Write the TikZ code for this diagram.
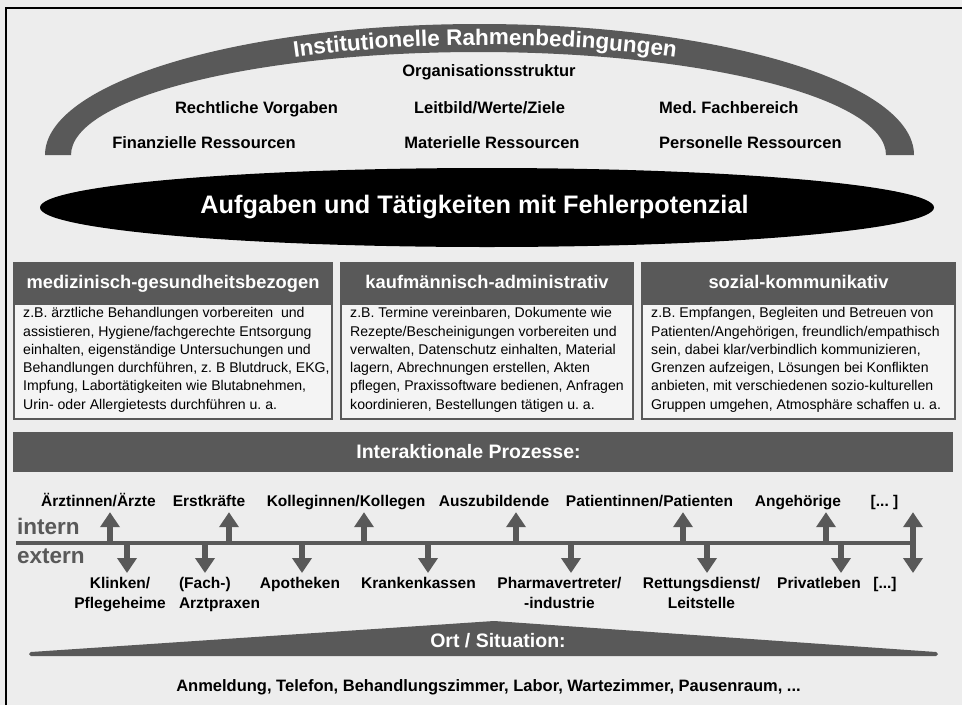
\documentclass[tikz,border=0pt]{standalone}
\usepackage{fontspec}
\setmainfont{Liberation Sans}
\usetikzlibrary{shapes.geometric,arrows.meta,decorations.text}
\definecolor{dgray}{HTML}{595959}
\definecolor{bggray}{HTML}{EDEDED}
\definecolor{boxgray}{HTML}{F4F4F4}
\frenchspacing
\begin{document}
\begin{tikzpicture}[x=1pt,y=-1pt,
    lab/.style={font=\fontsize{16.5}{20}\selectfont\bfseries, inner sep=0pt, anchor=base},
    tl/.style={font=\fontsize{15.5}{20}\selectfont\bfseries, inner sep=0pt},
    head/.style={font=\fontsize{18.3}{22}\selectfont\bfseries, text=white, inner sep=0pt, anchor=base},
    body/.style={font=\fontsize{14.1}{18.3}\selectfont, align=left, inner sep=0pt, anchor=north west},
    side/.style={font=\fontsize{22.5}{26}\selectfont\bfseries, text=dgray, inner sep=0pt, anchor=base west},
    arr/.style={dgray, line width=6pt, -{Triangle[width=19pt,length=15pt]}}]
  \useasboundingbox (0,0) rectangle (962,705);
  \fill[bggray] (0,0) rectangle (962,705);
  \draw[line width=1.5pt] (6,705) -- (6,8) -- (962,8);

  \fill[dgray] (45,155) arc[start angle=180, end angle=360, x radius=434.5, y radius=131]
    -- (886,155) arc[start angle=360, end angle=180, x radius=407.5, y radius=103] -- cycle;
  \path[decorate, decoration={text along path, text align=center, text color=white,
      text={|\fontsize{22.5}{27}\selectfont\bfseries|Institutionelle Rahmenbedingungen}}]
    (65,159) arc[start angle=180, end angle=360, x radius=420, y radius=114];

  \node[lab] (org) at (489,76.5) {Organisationsstruktur};
  \node[lab] (recht) at (256.5,113) {Rechtliche Vorgaben};
  \node[lab] (leit) at (489.5,113) {Leitbild/Werte/Ziele};
  \node[lab, anchor=base west] (med) at (659,113) {Med. Fachbereich};
  \node[lab] (fin) at (204,148) {Finanzielle Ressourcen};
  \node[lab] (mat) at (492,148) {Materielle Ressourcen};
  \node[lab, anchor=base west] (pers) at (659,148) {Personelle Ressourcen};

  \node[ellipse, fill=black, minimum width=894pt, minimum height=79pt, inner sep=0pt] (task) at (487,207.5) {};
  \node[head, font=\fontsize{25.3}{30}\selectfont\bfseries] (tasktext) at (474.5,213.5) {Aufgaben und Tätigkeiten mit Fehlerpotenzial};

  \foreach \xa/\xb/\name/\hd/\txt in {
      13/333/med/{medizinisch-gesundheitsbezogen}/{z.B. ärztliche Behandlungen vorbereiten~ und\\assistieren, Hygiene/fachgerechte Entsorgung\\einhalten, eigenständige Untersuchungen und\\Behandlungen durchführen, z. B Blutdruck, EKG,\\Impfung, Labortätigkeiten wie Blutabnehmen,\\Urin- oder Allergietests durchführen u. a.},
      340/634/kauf/{kaufmännisch-administrativ}/{z.B. Termine vereinbaren, Dokumente wie\\Rezepte/Bescheinigungen vorbereiten und\\verwalten, Datenschutz einhalten, Material\\lagern, Abrechnungen erstellen, Akten\\pflegen, Praxissoftware bedienen, Anfragen\\koordinieren, Bestellungen tätigen u. a.},
      641/956/soz/{sozial-kommunikativ}/{z.B. Empfangen, Begleiten und Betreuen von\\Patienten/Angehörigen, freundlich/empathisch\\sein, dabei klar/verbindlich kommunizieren,\\Grenzen aufzeigen, Lösungen bei Konflikten\\anbieten, mit verschiedenen sozio-kulturellen\\Gruppen umgehen, Atmosphäre schaffen u. a.}} {
    \fill[dgray] (\xa,262) rectangle (\xb,304);
    \draw[dgray, line width=2pt, fill=boxgray] (\xa+1,304) rectangle (\xb-1,419);
    \node[head] (h\name) at ({(\xa+\xb)/2},288.5) {\hd};
    \node[body] (b\name) at (\xa+10,307.3) {\txt};
  }

  \fill[dgray] (13,432) rectangle (953,472);
  \node[head, font=\fontsize{19.5}{23}\selectfont\bfseries] (inter) at (468.5,458.5) {Interaktionale Prozesse:};

  \coordinate (l0) at (16,543);
  \coordinate (l1) at (913,543);
  \draw[dgray, line width=4pt] (l0) -- (l1);
  \node[side] (intern) at (17,534) {intern};
  \node[side] (extern) at (17,563) {extern};

  \foreach \i/\ax/\lx/\txt in {1/110/98.5/{Ärztinnen/Ärzte}, 2/229/209/Erstkräfte,
      3/364/346/{Kolleginnen/Kollegen}, 4/516/494/Auszubildende,
      5/683/649.5/{Patientinnen/Patienten}, 6/826/798/Angehörige, 7/913/884.5/{[... ]}} {
    \node[tl, anchor=base, text depth=4pt] (u\i) at (\lx,506.5) {\txt};
    \coordinate (up\i) at (\ax,543);
    \draw[arr, shorten >=1.5pt] (up\i) -- (up\i |- u\i.south);
  }
  \foreach \i/\ax/\lx/\al/\txt in {1/127/120/center/{Klinken/\\Pflegeheime},
      2/205/219.5/left/{(Fach-)\\Arztpraxen}, 3/302/300/center/Apotheken,
      4/428/418.5/center/Krankenkassen, 5/571/559.5/center/{Pharmavertreter/\\-industrie},
      6/707/701.5/center/{Rettungsdienst/\\Leitstelle}, 7/841/819/center/Privatleben,
      8/913/885/center/{[...]}} {
    \node[tl, anchor=north, align=\al] (d\i) at (\lx,577) {\txt};
    \coordinate (dn\i) at (\ax,543);
    \draw[arr, shorten >=4pt] (dn\i) -- (dn\i |- d\i.north);
  }

  \filldraw[dgray, line width=4pt, line join=round] (31,654) -- (494,623) -- (936,654) -- cycle;
  \node[head, font=\fontsize{19.5}{23}\selectfont\bfseries] (ort) at (498,647) {Ort / Situation:};
  \node[lab] (orte) at (488.5,691.5) {Anmeldung, Telefon, Behandlungszimmer, Labor, Wartezimmer, Pausenraum, ...};
\end{tikzpicture}
\end{document}
